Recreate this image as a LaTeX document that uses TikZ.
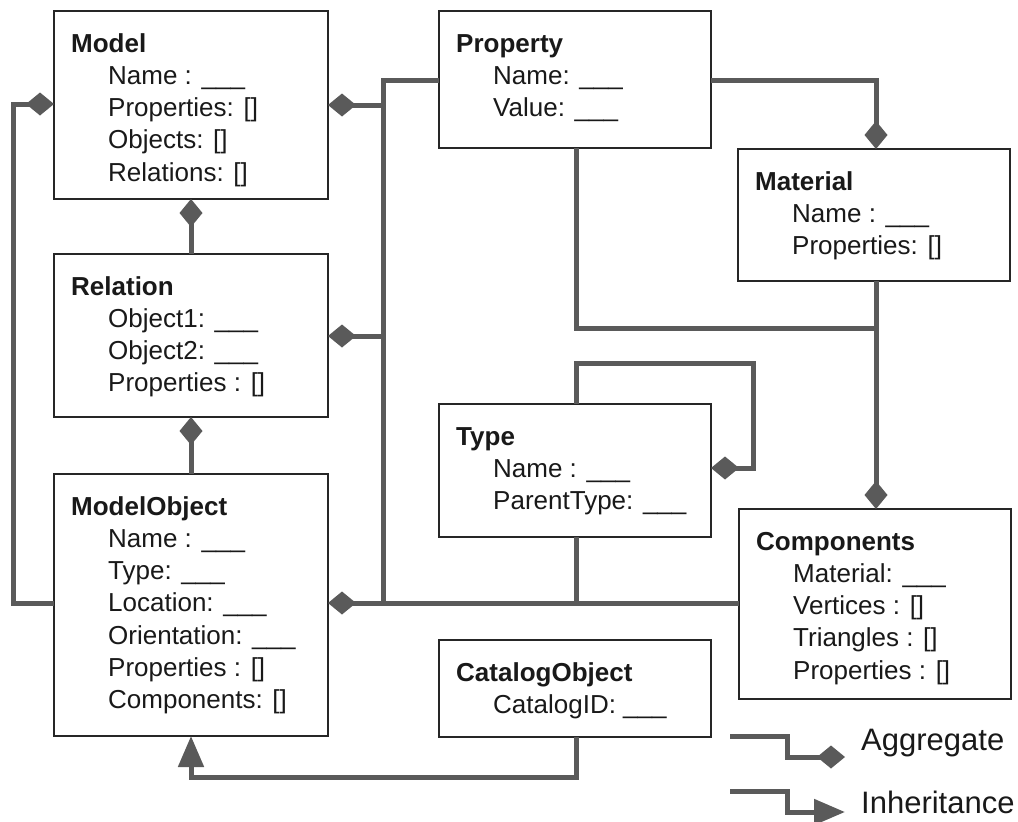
\documentclass[tikz,border=0pt]{standalone}
\usepackage{fontspec}
\setmainfont{Liberation Sans}
\usetikzlibrary{arrows.meta,calc}
\definecolor{conn}{HTML}{5A5A5A}
\tikzset{
  classbox/.style={draw=black!85, line width=1.4pt, fill=white, rectangle, inner sep=0pt, outer sep=0pt},
  heading/.style={inner sep=0pt, font=\fontsize{26}{32}\selectfont\bfseries, text=black!90},
  field/.style={inner sep=0pt, font=\fontsize{26}{32}\selectfont, text=black!90},
  legendtext/.style={inner sep=0pt, font=\fontsize{31}{36}\selectfont, text=black!90, anchor=west},
  conline/.style={draw=conn, line width=5pt, line join=miter},
  agg/.style={conline, -{Diamond[length=28pt,width=23pt]}},
  inh/.style={conline, -{Triangle[length=31pt,width=25pt]}},
}
\newcommand{\umlclass}[7]{%
  \node[classbox, minimum width=#4pt, minimum height=#5pt, anchor=north west] (#1) at (#2,#3) {};
  \node[heading, anchor=base west] (#1-h) at ($(#1.north west)+(17,41)$) {#6};
  \foreach \f [count=\i] in {#7} {
    \node[field, anchor=base west] (#1-f\i) at ($(#1.north west)+(54,41+32.3*\i)$) {\f};
  }%
}
\begin{document}
\begin{tikzpicture}[x=1pt,y=-1pt]
\useasboundingbox (0,0) rectangle (1018,822);

\umlclass{model}{54}{11}{274}{188}{Model}{{Name : \_\_\_},{Properties: []},{Objects: []},{Relations: []}}
\umlclass{property}{439}{11}{272}{137}{Property}{{Name: \_\_\_},{Value: \_\_\_}}
\umlclass{material}{738}{149}{272}{132}{Material}{{Name : \_\_\_},{Properties: []}}
\umlclass{relation}{54}{254}{274}{163}{Relation}{{Object1: \_\_\_},{Object2: \_\_\_},{Properties : []}}
\umlclass{type}{439}{404}{272}{133}{Type}{{Name : \_\_\_},{ParentType: \_\_\_}}
\umlclass{mo}{54}{474}{274}{262}{ModelObject}{{Name : \_\_\_},{Type: \_\_\_},{Location: \_\_\_},{Orientation: \_\_\_},{Properties : []},{Components: []}}
\umlclass{comp}{739}{509}{272}{190}{Components}{{Material: \_\_\_},{Vertices : []},{Triangles : []},{Properties : []}}
\umlclass{catalog}{439}{640}{272}{97}{CatalogObject}{{CatalogID: \_\_\_}}

% named junction coordinates
\coordinate (busTop) at (383,80);
\coordinate (busBot) at (383,603);
\coordinate (leftTop) at (13,104);
\coordinate (leftBot) at (13,603);
\coordinate (propDown) at (576,328);
\coordinate (matJoin) at (876,328);
\coordinate (propRight) at (876,80);
\coordinate (typeJoin) at (576,603);
\coordinate (loopA) at (576,363);
\coordinate (loopB) at (753,363);
\coordinate (loopC) at (753,468);
\coordinate (inhA) at (576,777);
\coordinate (inhB) at (191,777);

% Model left loop to ModelObject
\draw[agg] (mo.west |- leftBot) -- (leftBot) -- (leftTop) -- (model.west |- leftTop);
% bus on the right of the left column
\draw[conline] (property.west |- busTop) -- (busTop) -- (busBot);
\draw[agg] (383,105) -- (model.east |- 0,105);
\draw[agg] (383,336) -- (relation.east |- 0,336);
\draw[agg] (comp.west |- busBot) -- (mo.east |- busBot);
% Type to bottom line
\draw[conline] (type.south -| typeJoin) -- (typeJoin);
% Property bottom to Material/Components line
\draw[conline] (property.south -| propDown) -- (propDown) -- (matJoin);
\draw[agg] (material.south -| matJoin) -- (comp.north -| matJoin);
% Property right to Material
\draw[agg] (property.east |- propRight) -- (propRight) -- (material.north -| propRight);
% vertical aggregates in left column
\draw[agg] (relation.north -| 191,0) -- (model.south -| 191,0);
\draw[agg] (mo.north -| 191,0) -- (relation.south -| 191,0);
% Type self loop
\draw[agg] (type.north -| loopA) -- (loopA) -- (loopB) -- (loopC) -- (type.east |- loopC);
% Inheritance
\draw[inh] (catalog.south -| inhA) -- (inhA) -- (inhB) -- (mo.south -| inhB);

% legend
\coordinate (lgA1) at (730,736);
\coordinate (lgA2) at (787,736);
\coordinate (lgA3) at (787,757);
\coordinate (lgA4) at (845,757);
\draw[agg] (lgA1) -- (lgA2) -- (lgA3) -- (lgA4);
\node[legendtext] (lgAt) at (861,743) {Aggregate};
\coordinate (lgI1) at (730,791);
\coordinate (lgI2) at (787,791);
\coordinate (lgI3) at (787,812);
\coordinate (lgI4) at (845,812);
\draw[inh] (lgI1) -- (lgI2) -- (lgI3) -- (lgI4);
\node[legendtext] (lgIt) at (861,802) {Inheritance};
\end{tikzpicture}
\end{document}
